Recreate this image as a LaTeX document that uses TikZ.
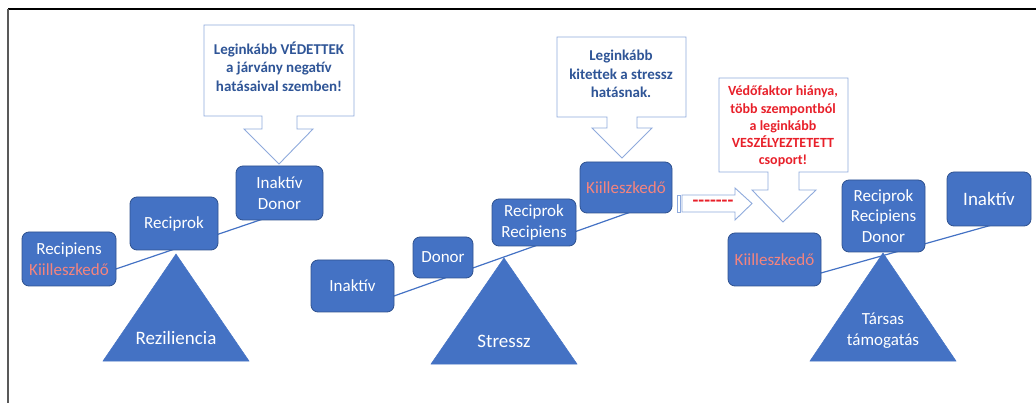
\documentclass[tikz,border=0pt]{standalone}
\usepackage{fontspec}
\setmainfont{Carlito}
\definecolor{boxblue}{HTML}{4472C4}
\definecolor{boxborder}{HTML}{2F528F}
\definecolor{salmon}{HTML}{F4847E}
\definecolor{darkblue}{HTML}{2F5597}
\definecolor{calloutline}{HTML}{8FAADC}
\definecolor{alertred}{HTML}{E8202A}
\tikzset{
  box/.style={draw=boxborder, fill=boxblue, rounded corners=7pt, text=white, inner sep=0pt,
    align=center, font=\fontsize{17}{20.5}\selectfont, line width=0.8pt},
  tri/.style={fill=boxblue, draw=boxblue, line width=0.5pt},
  tritext/.style={text=white, align=center, inner sep=0pt, font=\fontsize{19}{21}\selectfont},
  lever/.style={draw=boxblue, line width=1.2pt},
  callout/.style={draw=calloutline, fill=white, line width=0.9pt, line join=miter},
  ctext/.style={text=darkblue, align=center, inner sep=0pt, font=\bfseries\fontsize{15}{18.5}\selectfont},
  rtext/.style={text=alertred, align=center, inner sep=0pt, font=\bfseries\fontsize{14}{17.3}\selectfont},
}
\begin{document}
\begin{tikzpicture}[x=1pt,y=-1pt]
\useasboundingbox (0,0) rectangle (1036,403);
% frame
\draw[line width=1.4pt, black] (8,9) -- (1036,9);
\draw[line width=1.4pt, black!65] (8,9) -- (8,403);

% lever lines (behind)
\coordinate (l1a) at (80,281.2);
\coordinate (l1b) at (270,216.6);
\coordinate (l2a) at (370,304.5);
\coordinate (l2b) at (640,208.7);
\coordinate (l3a) at (790,281.7);
\coordinate (l3b) at (1000,222.7);
\draw[lever] (l1a) -- (l1b);
\draw[lever] (l2a) -- (l2b);
\draw[lever] (l3a) -- (l3b);

% triangles
\path[tri] (103,361) -- (249,361) -- (176,254) -- cycle;
\path[tri] (431,364) -- (577,364) -- (504,258) -- cycle;
\path[tri] (810,361) -- (956,361) -- (883,253) -- cycle;
\node[tritext] (t1) at (176,338) {Reziliencia};
\node[tritext] (t2) at (504,341) {Stressz};
\node[tritext, font=\fontsize{17}{21}\selectfont] (t3) at (883,331) {Társas\\támogatás};

% left group boxes
\node[box, minimum width=94pt, minimum height=54pt] (recK) at (69,259) {Recipiens\\\textcolor{salmon}{Kiilleszkedő}};
\node[box, minimum width=88pt, minimum height=53pt] (recip) at (174,223.5) {Reciprok};
\node[box, minimum width=87pt, minimum height=54pt] (inDon) at (279.5,193) {Inaktív\\Donor};

% middle group boxes
\node[box, minimum width=83pt, minimum height=52pt] (inak2) at (352.5,286) {Inaktív};
\node[box, minimum width=60pt, minimum height=41pt] (don2) at (443,257.5) {Donor};
\node[box, minimum width=84pt, minimum height=47pt] (rr2) at (534,222.5) {Reciprok\\Recipiens};
\node[box, minimum width=92pt, minimum height=51pt] (kii2) at (626,187.5) {\textcolor{salmon}{Kiilleszkedő}};

% right group boxes
\node[box, minimum width=93pt, minimum height=53pt] (kii3) at (774.5,259.5) {\textcolor{salmon}{Kiilleszkedő}};
\node[box, minimum width=83pt, minimum height=72pt] (rrd3) at (883.5,216) {Reciprok\\Recipiens\\Donor};
\node[box, minimum width=84pt, minimum height=54pt, font=\fontsize{19}{21}\selectfont] (inak3) at (989,199) {Inaktív};

% callouts
\draw[callout] (204,25) -- (354,25) -- (354,116) -- (297,116) -- (297,129) -- (313,129)
  -- (279,164) -- (244,129) -- (262,129) -- (262,116) -- (204,116) -- cycle;
\node[ctext] (c1) at (279,66.5) {Leginkább VÉDETTEK\\a járvány negatív\\hatásaival szemben!};

\draw[callout] (557,37) -- (686,37) -- (686,117) -- (637,117) -- (637,128) -- (652,128)
  -- (622,158) -- (592,128) -- (607,128) -- (607,117) -- (557,117) -- cycle;
\node[ctext] (c2) at (621,74) {Leginkább\\kitettek a stressz\\hatásnak.};

\draw[callout] (719,78) -- (848,78) -- (848,172) -- (799,172) -- (799,190) -- (816,190)
  -- (783,222) -- (752,190) -- (768,190) -- (768,172) -- (719,172) -- cycle;
\node[rtext] (c3) at (783,126.5) {Védőfaktor hiánya,\\több szempontból\\a leginkább\\VESZÉLYEZTETETT\\csoport!};

% striped hollow arrow
\draw[callout] (677.5,195) rectangle (680,212);
\draw[callout] (682,195) -- (735,195) -- (735,188) -- (752,203.5) -- (735,220) -- (735,212) -- (682,212) -- cycle;
\node[text=alertred, inner sep=0pt, font=\bfseries\fontsize{19}{21}\selectfont] (dash) at (713,203) {{-}{-}{-}{-}{-}{-}{-}};
\end{tikzpicture}
\end{document}
